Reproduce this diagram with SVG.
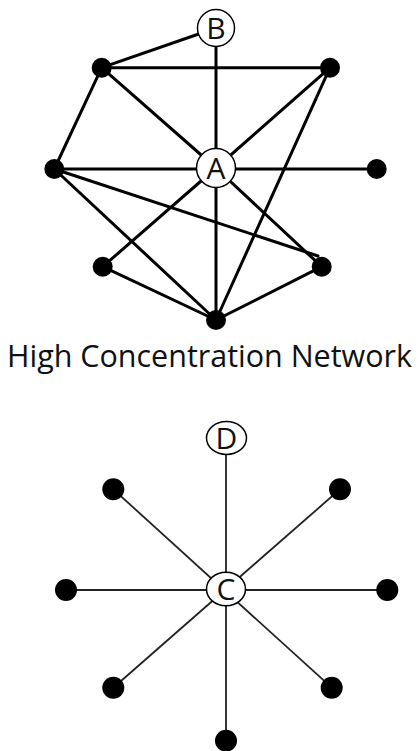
<svg xmlns="http://www.w3.org/2000/svg" width="418" height="751" viewBox="0 0 418 751">
<style>
.e1{stroke:#000;stroke-width:3;fill:none;stroke-linecap:round}
.e2{stroke:#222;stroke-width:1.8;fill:none}
.dot{fill:#000}
.lab{fill:#fff;stroke:#000;stroke-width:1.5}
.t{font-family:"Open Sans","Noto Sans",sans-serif;fill:#111;text-anchor:middle}
</style>
<rect width="418" height="751" fill="#fff"/>
<g id="edges-high">
<line class="e1" x1="101.7" y1="67.7" x2="216" y2="28"/>
<line class="e1" x1="216" y1="28" x2="216" y2="168"/>
<line class="e1" x1="101.7" y1="67.7" x2="330" y2="67.7"/>
<line class="e1" x1="101.7" y1="67.7" x2="216" y2="168"/>
<line class="e1" x1="101.7" y1="67.7" x2="54.3" y2="169"/>
<line class="e1" x1="330" y1="67.7" x2="216" y2="168"/>
<line class="e1" x1="330" y1="67.7" x2="216" y2="320"/>
<line class="e1" x1="54.3" y1="169" x2="376.7" y2="169"/>
<line class="e1" x1="54.3" y1="169" x2="318" y2="256"/>
<line class="e1" x1="54.3" y1="169" x2="216" y2="320"/>
<line class="e1" x1="216" y1="168" x2="102.7" y2="266.7"/>
<line class="e1" x1="216" y1="168" x2="216" y2="320"/>
<line class="e1" x1="216" y1="168" x2="321.7" y2="266.7"/>
<line class="e1" x1="102.7" y1="266.7" x2="216" y2="320"/>
<line class="e1" x1="321.7" y1="266.7" x2="216" y2="320"/>
</g>
<g id="n-tl"><circle class="dot" cx="101.7" cy="67.7" r="10"/></g>
<g id="n-tr"><circle class="dot" cx="330" cy="67.7" r="10"/></g>
<g id="n-l"><circle class="dot" cx="54.3" cy="169" r="10"/></g>
<g id="n-r"><circle class="dot" cx="376.7" cy="169" r="10"/></g>
<g id="n-bl"><circle class="dot" cx="102.7" cy="266.7" r="10"/></g>
<g id="n-br"><circle class="dot" cx="321.7" cy="266.7" r="10"/></g>
<g id="n-b"><circle class="dot" cx="216" cy="320" r="10"/></g>
<g id="n-B"><circle class="lab" cx="216" cy="28" r="18.5"/><text class="t" x="216" y="39" font-size="30">B</text></g>
<g id="n-A"><circle class="lab" cx="216" cy="168" r="19.5"/><text class="t" x="216" y="179" font-size="30">A</text></g>
<text class="t" x="209.5" y="367" font-size="31" textLength="405" lengthAdjust="spacingAndGlyphs">High Concentration Network</text>
<g id="edges-low">
<line class="e2" x1="226" y1="438" x2="226" y2="740.7"/>
<line class="e2" x1="66" y1="590" x2="387.3" y2="590"/>
<line class="e2" x1="113.3" y1="489.3" x2="331.7" y2="687.7"/>
<line class="e2" x1="340" y1="489.3" x2="113.3" y2="687.7"/>
</g>
<g id="n-ctl"><circle class="dot" cx="113.3" cy="489.3" r="11"/></g>
<g id="n-ctr"><circle class="dot" cx="340" cy="489.3" r="11"/></g>
<g id="n-cl"><circle class="dot" cx="66" cy="590" r="11"/></g>
<g id="n-cr"><circle class="dot" cx="387.3" cy="590" r="11"/></g>
<g id="n-cbl"><circle class="dot" cx="113.3" cy="687.7" r="11"/></g>
<g id="n-cbr"><circle class="dot" cx="331.7" cy="687.7" r="11"/></g>
<g id="n-cb"><circle class="dot" cx="226" cy="740.7" r="11"/></g>
<g id="n-D"><ellipse class="lab" cx="226.5" cy="438" rx="20" ry="16.5"/><text class="t" x="226.5" y="449" font-size="30">D</text></g>
<g id="n-C"><ellipse class="lab" cx="226" cy="589" rx="19.5" ry="16.8"/><text class="t" x="226" y="600" font-size="30">C</text></g>
</svg>
